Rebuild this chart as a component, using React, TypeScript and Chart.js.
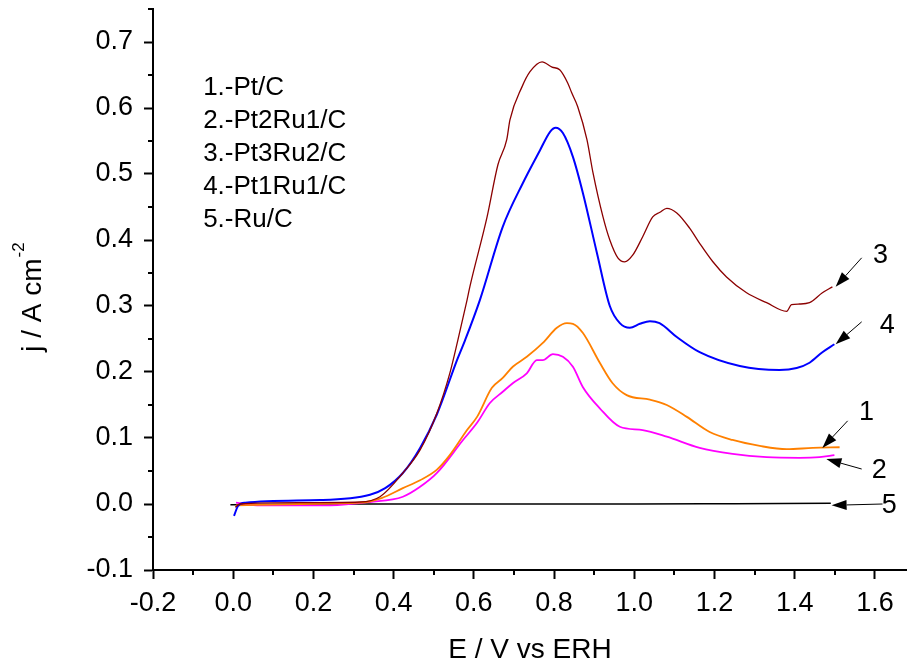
import React, { useEffect, useRef } from 'react';
import { Chart, registerables } from 'chart.js';

Chart.register(...registerables);

// ---- Data (E in V vs ERH, j in A cm^-2) ----
const ptcE = [0.007, 0.167, 0.316, 0.37, 0.423, 0.466, 0.508, 0.540, 0.583, 0.608, 0.645, 0.672, 0.697, 0.732, 0.772, 0.807, 0.832, 0.847, 0.872, 0.914, 0.946, 0.981, 1.039, 1.081, 1.131, 1.188, 1.245, 1.313, 1.380, 1.445, 1.512];
const ptcJ = [-0.002, 0.0, 0.002, 0.009, 0.024, 0.036, 0.052, 0.074, 0.112, 0.132, 0.176, 0.191, 0.208, 0.223, 0.244, 0.267, 0.274, 0.273, 0.259, 0.214, 0.183, 0.165, 0.158, 0.150, 0.132, 0.109, 0.097, 0.088, 0.083, 0.085, 0.086];

const pt2ru1E = [0.007, 0.067, 0.242, 0.341, 0.423, 0.466, 0.508, 0.573, 0.608, 0.640, 0.672, 0.697, 0.732, 0.757, 0.772, 0.797, 0.822, 0.847, 0.872, 0.914, 0.964, 1.021, 1.081, 1.163, 1.245, 1.330, 1.412, 1.462, 1.499];
const pt2ru1J = [0.002, -0.002, -0.002, 0.003, 0.011, 0.026, 0.047, 0.097, 0.123, 0.153, 0.170, 0.183, 0.198, 0.218, 0.218, 0.227, 0.223, 0.208, 0.177, 0.145, 0.117, 0.112, 0.102, 0.085, 0.076, 0.071, 0.070, 0.071, 0.074];

const pt3ru2E = [0.005, 0.017, 0.167, 0.316, 0.366, 0.423, 0.466, 0.508, 0.540, 0.560, 0.583, 0.590, 0.633, 0.660, 0.682, 0.690, 0.720, 0.740, 0.770, 0.795, 0.814, 0.834, 0.844, 0.859, 0.882, 0.897, 0.922, 0.939, 0.959, 0.976, 0.996, 1.021, 1.046, 1.064, 1.081, 1.106, 1.138, 1.163, 1.196, 1.230, 1.280, 1.330, 1.380, 1.392, 1.412, 1.437, 1.469, 1.494];
const pt3ru2J = [-0.005, 0.0, 0.002, 0.003, 0.011, 0.047, 0.082, 0.138, 0.198, 0.248, 0.309, 0.329, 0.435, 0.514, 0.552, 0.582, 0.632, 0.655, 0.670, 0.662, 0.658, 0.638, 0.623, 0.602, 0.552, 0.502, 0.435, 0.400, 0.373, 0.367, 0.377, 0.405, 0.435, 0.442, 0.448, 0.441, 0.418, 0.395, 0.367, 0.344, 0.320, 0.305, 0.292, 0.302, 0.303, 0.305, 0.320, 0.329];

const pt1ru1E = [0.002, 0.012, 0.030, 0.217, 0.341, 0.379, 0.423, 0.466, 0.508, 0.558, 0.578, 0.615, 0.672, 0.722, 0.765, 0.790, 0.804, 0.822, 0.847, 0.872, 0.907, 0.939, 0.964, 0.989, 1.014, 1.039, 1.063, 1.106, 1.163, 1.263, 1.362, 1.405, 1.437, 1.469, 1.499];
const pt1ru1J = [-0.018, -0.003, 0.002, 0.006, 0.014, 0.024, 0.047, 0.085, 0.136, 0.218, 0.248, 0.309, 0.420, 0.486, 0.536, 0.564, 0.570, 0.562, 0.526, 0.471, 0.380, 0.300, 0.274, 0.267, 0.273, 0.277, 0.274, 0.253, 0.230, 0.209, 0.203, 0.206, 0.214, 0.230, 0.242];

const rucE = [-0.007, 0.25, 0.5, 0.75, 1.0, 1.25, 1.49];
const rucJ = [-0.001, 0.0, 0.0, 0.0, 0.0, 0.0005, 0.001];

// ---- Axis ranges / ticks ----
const xMin = -0.2;
const xMax = 1.68;
const xStep = 0.2;
const yMin = -0.1;
const yMax = 0.75;
const yStep = 0.1;

// ---- Annotation texts (positions in data units) ----
const legendLines = ['1.-Pt/C', '2.-Pt2Ru1/C', '3.-Pt3Ru2/C', '4.-Pt1Ru1/C', '5.-Ru/C'];
const legendX = -0.075;
const legendY = [0.630, 0.580, 0.530, 0.480, 0.430];

const curveLabels = ['3', '4', '1', '2', '5'];
const curveLabelPos = [[1.614, 0.377], [1.631, 0.271], [1.579, 0.139], [1.611, 0.050], [1.636, -0.002]];
const arrowFrom = [[1.567, 0.373], [1.567, 0.276], [1.532, 0.126], [1.567, 0.053], [1.619, 0.0]];
const arrowTo = [[1.502, 0.329], [1.502, 0.242], [1.469, 0.085], [1.479, 0.068], [1.492, -0.002]];

const FONT = "'Liberation Sans', Arial, sans-serif";

function zip(xs: number[], ys: number[]) {
  return xs.map((x, i) => ({ x, y: ys[i] }));
}

const decorPlugin = {
  id: 'decor',
  afterDraw(chart: any) {
    const ctx = chart.ctx as CanvasRenderingContext2D;
    const xs = chart.scales.x;
    const ys = chart.scales.y;
    const area = chart.chartArea;
    ctx.save();
    ctx.strokeStyle = '#000';
    ctx.fillStyle = '#000';

    // minor ticks
    ctx.lineWidth = 2;
    for (let i = 0; ; i++) {
      const v = xMin + xStep / 2 + i * xStep;
      if (v > xMax + 1e-9) break;
      const px = Math.round(xs.getPixelForValue(v));
      ctx.beginPath();
      ctx.moveTo(px, area.bottom);
      ctx.lineTo(px, area.bottom + 5);
      ctx.stroke();
    }
    for (let i = 0; ; i++) {
      const v = yMin + yStep / 2 + i * yStep;
      if (v > yMax + 1e-9) break;
      const py = Math.round(ys.getPixelForValue(v));
      ctx.beginPath();
      ctx.moveTo(area.left, py);
      ctx.lineTo(area.left - 5, py);
      ctx.stroke();
    }

    // legend text block
    ctx.font = `26px ${FONT}`;
    ctx.textAlign = 'left';
    ctx.textBaseline = 'middle';
    legendLines.forEach((t, i) => {
      ctx.fillText(t, xs.getPixelForValue(legendX), ys.getPixelForValue(legendY[i]));
    });

    // curve labels + arrows
    ctx.font = `27px ${FONT}`;
    ctx.textAlign = 'center';
    curveLabels.forEach((t, i) => {
      ctx.fillText(t, xs.getPixelForValue(curveLabelPos[i][0]), ys.getPixelForValue(curveLabelPos[i][1]));
      const x1 = xs.getPixelForValue(arrowFrom[i][0]);
      const y1 = ys.getPixelForValue(arrowFrom[i][1]);
      const x2 = xs.getPixelForValue(arrowTo[i][0]);
      const y2 = ys.getPixelForValue(arrowTo[i][1]);
      const ang = Math.atan2(y2 - y1, x2 - x1);
      const headLen = 15;
      const headW = 5;
      const bx = x2 - headLen * Math.cos(ang);
      const by = y2 - headLen * Math.sin(ang);
      ctx.lineWidth = 1;
      ctx.beginPath();
      ctx.moveTo(x1, y1);
      ctx.lineTo(bx, by);
      ctx.stroke();
      ctx.beginPath();
      ctx.moveTo(x2, y2);
      ctx.lineTo(bx + headW * Math.sin(ang), by - headW * Math.cos(ang));
      ctx.lineTo(bx - headW * Math.sin(ang), by + headW * Math.cos(ang));
      ctx.closePath();
      ctx.fill();
    });

    // x axis title
    ctx.font = `28px ${FONT}`;
    ctx.textAlign = 'center';
    ctx.textBaseline = 'middle';
    ctx.fillText('E / V vs ERH', (area.left + area.right) / 2, 650);

    // y axis title with superscript
    const main = 'j / A cm';
    const sup = '-2';
    ctx.translate(33, 297);
    ctx.rotate(-Math.PI / 2);
    ctx.font = `28px ${FONT}`;
    const w1 = ctx.measureText(main).width;
    ctx.font = `17px ${FONT}`;
    const w2 = ctx.measureText(sup).width;
    const start = -(w1 + w2 + 1) / 2;
    ctx.textAlign = 'left';
    ctx.font = `28px ${FONT}`;
    ctx.fillText(main, start, 0);
    ctx.font = `17px ${FONT}`;
    ctx.fillText(sup, start + w1 + 1, -14);
    ctx.restore();
  },
};

export default function App() {
  const canvasRef = useRef<HTMLCanvasElement | null>(null);

  useEffect(() => {
    if (!canvasRef.current) return;
    const fmt = (v: any) => Number(v).toFixed(1);
    const chart = new Chart(canvasRef.current, {
      type: 'line',
      data: {
        datasets: [
          { label: '3.-Pt3Ru2/C', data: zip(pt3ru2E, pt3ru2J), borderColor: '#8B0000', borderWidth: 1.3 },
          { label: '4.-Pt1Ru1/C', data: zip(pt1ru1E, pt1ru1J), borderColor: '#0000FF', borderWidth: 2 },
          { label: '1.-Pt/C', data: zip(ptcE, ptcJ), borderColor: '#FF8000', borderWidth: 1.8 },
          { label: '2.-Pt2Ru1/C', data: zip(pt2ru1E, pt2ru1J), borderColor: '#FF00FF', borderWidth: 1.8 },
          { label: '5.-Ru/C', data: zip(rucE, rucJ), borderColor: '#000000', borderWidth: 1.5 },
        ].map((d) => ({ ...d, pointRadius: 0, fill: false, cubicInterpolationMode: 'monotone' })),
      },
      options: {
        animation: false,
        responsive: false,
        maintainAspectRatio: false,
        devicePixelRatio: 1,
        layout: { padding: { top: 9, left: 0, right: 0, bottom: 0 } },
        plugins: { legend: { display: false }, tooltip: { enabled: false } },
        scales: {
          x: {
            type: 'linear',
            min: xMin,
            max: xMax,
            afterFit: (s: any) => {
              s.height = 97;
              s.paddingLeft = 0;
              s.paddingRight = 0;
              s.paddingTop = 0;
              s.paddingBottom = 0;
            },
            border: { display: true, color: '#000', width: 2 },
            grid: { display: true, drawOnChartArea: false, drawTicks: true, tickLength: 9, tickColor: '#000', tickWidth: 2 },
            ticks: {
              stepSize: xStep,
              includeBounds: false,
              maxRotation: 0,
              autoSkip: false,
              padding: 8,
              color: '#000',
              font: { family: FONT, size: 27 },
              callback: fmt,
            },
          },
          y: {
            type: 'linear',
            min: yMin,
            max: yMax,
            afterFit: (s: any) => {
              s.width = 153;
              s.paddingLeft = 0;
              s.paddingRight = 0;
              s.paddingTop = 0;
              s.paddingBottom = 0;
            },
            border: { display: true, color: '#000', width: 2 },
            grid: { display: true, drawOnChartArea: false, drawTicks: true, tickLength: 9, tickColor: '#000', tickWidth: 2 },
            ticks: {
              stepSize: yStep,
              includeBounds: false,
              autoSkip: false,
              padding: 11,
              color: '#000',
              font: { family: FONT, size: 27 },
              callback: fmt,
            },
          },
        },
      },
      plugins: [decorPlugin],
    } as any);
    return () => chart.destroy();
  }, []);

  return (
    <div style={{ position: 'absolute', left: 0, top: 0, width: 907, height: 667, background: '#fff' }}>
      <canvas ref={canvasRef} width={907} height={667} style={{ display: 'block', width: 907, height: 667 }} />
    </div>
  );
}
